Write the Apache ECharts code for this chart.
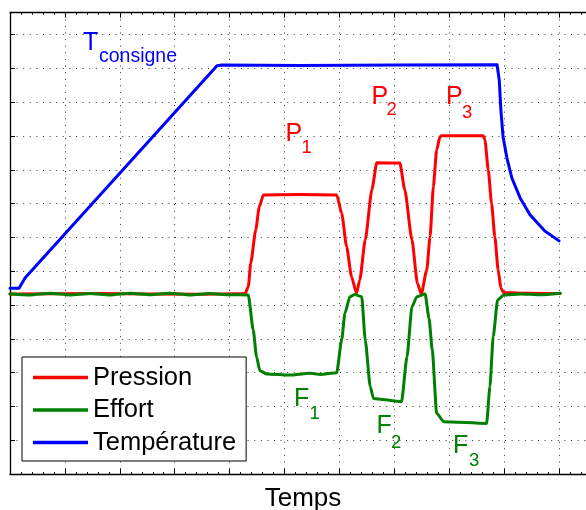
<!DOCTYPE html>
<html>
<head>
<meta charset="utf-8">
<script src="https://cdn.jsdelivr.net/npm/echarts@6/dist/echarts.min.js"></script>
<style>
html,body{margin:0;padding:0;background:#fff;}
#chart{width:586px;height:510px;}
</style>
</head>
<body>
<div id="chart"></div>
<script>
// Series names
const seriesNames = ['Pression', 'Effort', 'Température'];
const axisTitle = 'Temps';

// Température (blue)
const tempX = [0, 1.64, 2.73, 37.7, 38.6, 52.8, 71.0, 88.7, 89.1, 89.4, 89.8, 90.5, 91.4, 92.9, 94.7, 97.4, 100.0];
const tempY = [55.0, 55.0, 58.0, 120.8, 121.0, 120.9, 121.0, 121.1, 116.6, 107.7, 99.7, 93.5, 87.6, 81.7, 76.7, 71.9, 69.0];

// Pression (red)
const pressX = [0, 16.4, 34.6, 42.8, 43.4, 43.84, 44.75, 45.4, 46.14, 52.8, 59.5, 60.4, 61.3, 62.2, 63.1, 63.7, 64.7, 65.9, 66.8, 71.0, 71.9, 73.2, 74.2, 74.9, 75.9, 76.5, 77.1, 77.7, 78.3, 78.6, 86.2, 86.5, 87.1, 87.7, 88.3, 88.9, 89.4, 89.9, 94.7, 100.2];
const pressY = [53.3, 53.4, 53.2, 53.4, 55.4, 62.4, 72.2, 79.1, 82.6, 82.7, 82.6, 77.2, 67.3, 58.4, 53.5, 57.4, 69.3, 84.1, 92.1, 92.0, 84.1, 69.3, 56.4, 53.3, 60.4, 70.2, 85.0, 95.9, 99.8, 100.1, 100.1, 98.8, 90.0, 80.1, 70.2, 60.4, 55.0, 53.7, 53.5, 53.4];

// Effort (green)
const effortX = [0, 3.64, 7.29, 10.93, 14.57, 18.2, 21.9, 25.5, 29.1, 32.8, 36.4, 40.1, 43.4, 44.3, 44.9, 45.5, 46.8, 51.0, 54.6, 56.5, 59.5, 60.4, 61.0, 61.9, 62.8, 64.05, 64.7, 65.6, 66.2, 71.3, 72.3, 73.2, 74.1, 75.6, 76.3, 76.9, 77.7, 79.0, 86.8, 87.4, 88.0, 88.8, 89.9, 92.9, 96.5, 100.2];
const effortY = [53.3, 53.0, 53.5, 53.0, 53.4, 53.0, 53.5, 53.05, 53.5, 53.0, 53.4, 53.05, 53.0, 42.6, 34.7, 30.6, 29.6, 29.3, 29.8, 29.5, 30.0, 39.7, 47.6, 52.5, 53.1, 52.5, 39.7, 25.9, 22.4, 21.4, 34.7, 49.5, 52.5, 53.3, 46.2, 36.7, 18.0, 15.5, 15.0, 25.9, 40.7, 51.5, 53.0, 53.3, 53.05, 53.5];

// Axis extents (the frame continues past the right edge of the picture)
const xMin = 0, xMax = 104.9, xStep = 10;
const yMin = 0, yMax = 136.5, yStep = 10;

function pairs(xs, ys) { return xs.map((x, i) => [x, ys[i]]); }

const FONT = '"Liberation Sans", Arial, Helvetica, sans-serif';
const chart = echarts.init(document.getElementById('chart'), null, {renderer: 'canvas'});

const dotted = {color: '#333', width: 1, type: [1, 5.6]};

function lbl(x, y, text, color, size) {
  return {type: 'text', x: x, y: y, z: 100,
    style: {text: text, fill: color, fontSize: size, fontFamily: FONT, align: 'left', verticalAlign: 'middle'}};
}

function lineSeries(name, data, color, z, smooth) {
  return {name: name, type: 'line', data: data, showSymbol: false, symbol: 'none',
    smooth: smooth, smoothMonotone: 'x',
    color: color, lineStyle: {color: color, width: 3, join: 'round', cap: 'round'}, z: z};
}

const option = {
  backgroundColor: '#fff',
  animation: false,
  grid: {left: 10, top: 12.7, right: 0, bottom: 35.9, containLabel: false, outerBoundsMode: 'none'},
  xAxis: [{
    type: 'value', min: xMin, max: xMax, interval: xStep, position: 'bottom',
    name: axisTitle, nameLocation: 'middle', nameGap: 12,
    nameTextStyle: {fontSize: 26, color: '#000', fontFamily: FONT, padding: [0, 0, 0, 10]},
    axisLine: {show: true, onZero: false, lineStyle: {color: '#000', width: 1.3}},
    axisTick: {show: true, inside: true, length: 5, lineStyle: {color: '#000'}},
    minorTick: {show: true, splitNumber: 5, length: 2, lineStyle: {color: '#000'}},
    axisLabel: {show: false},
    splitLine: {show: true, lineStyle: dotted}
  }, {
    type: 'value', min: xMin, max: xMax, interval: xStep, position: 'top',
    axisLine: {show: true, onZero: false, lineStyle: {color: '#000', width: 1.3}},
    axisTick: {show: true, inside: true, length: 5, lineStyle: {color: '#000'}},
    minorTick: {show: true, splitNumber: 5, length: 2, lineStyle: {color: '#000'}},
    axisLabel: {show: false},
    splitLine: {show: false}
  }],
  yAxis: [{
    type: 'value', min: yMin, max: yMax, interval: yStep, position: 'left',
    axisLine: {show: true, onZero: false, lineStyle: {color: '#000', width: 1.3}},
    axisTick: {show: true, inside: true, length: 5, lineStyle: {color: '#000'}},
    axisLabel: {show: false},
    splitLine: {show: true, lineStyle: dotted}
  }],
  legend: {
    orient: 'vertical', left: 22, top: 357,
    data: seriesNames,
    icon: 'rect', itemWidth: 55, itemHeight: 3.5, itemGap: 5.5,
    padding: [7, 10, 5, 11],
    backgroundColor: '#fff', borderColor: '#000', borderWidth: 1, borderRadius: 0,
    textStyle: {fontSize: 25.5, lineHeight: 27, color: '#000', fontFamily: FONT, padding: [0, 0, 0, 0]},
    itemStyle: {borderWidth: 0},
    z: 10
  },
  series: [
    lineSeries(seriesNames[0], pairs(pressX, pressY), '#ff0000', 3, 0.2),
    lineSeries(seriesNames[1], pairs(effortX, effortY), '#008000', 4, 0.2),
    lineSeries(seriesNames[2], pairs(tempX, tempY), '#0000ff', 5, false)
  ],
  graphic: [
    lbl(83, 43, 'T', '#0000ff', 25),
    lbl(99, 56.5, 'consigne', '#0000ff', 19.5),
    lbl(285.5, 134.5, 'P', '#ff0000', 25),
    lbl(301.5, 147.5, '1', '#ff0000', 18.5),
    lbl(371.5, 97.3, 'P', '#ff0000', 25),
    lbl(386.5, 110.2, '2', '#ff0000', 18.5),
    lbl(446, 97.3, 'P', '#ff0000', 25),
    lbl(462, 112.5, '3', '#ff0000', 18.5),
    lbl(294, 399.5, 'F', '#008000', 25),
    lbl(309.5, 414.2, '1', '#008000', 18.5),
    lbl(376.5, 426.3, 'F', '#008000', 25),
    lbl(391, 442.8, '2', '#008000', 18.5),
    lbl(453, 446.3, 'F', '#008000', 25),
    lbl(469, 460.5, '3', '#008000', 18.5)
  ]
};
chart.setOption(option);
</script>
</body>
</html>
